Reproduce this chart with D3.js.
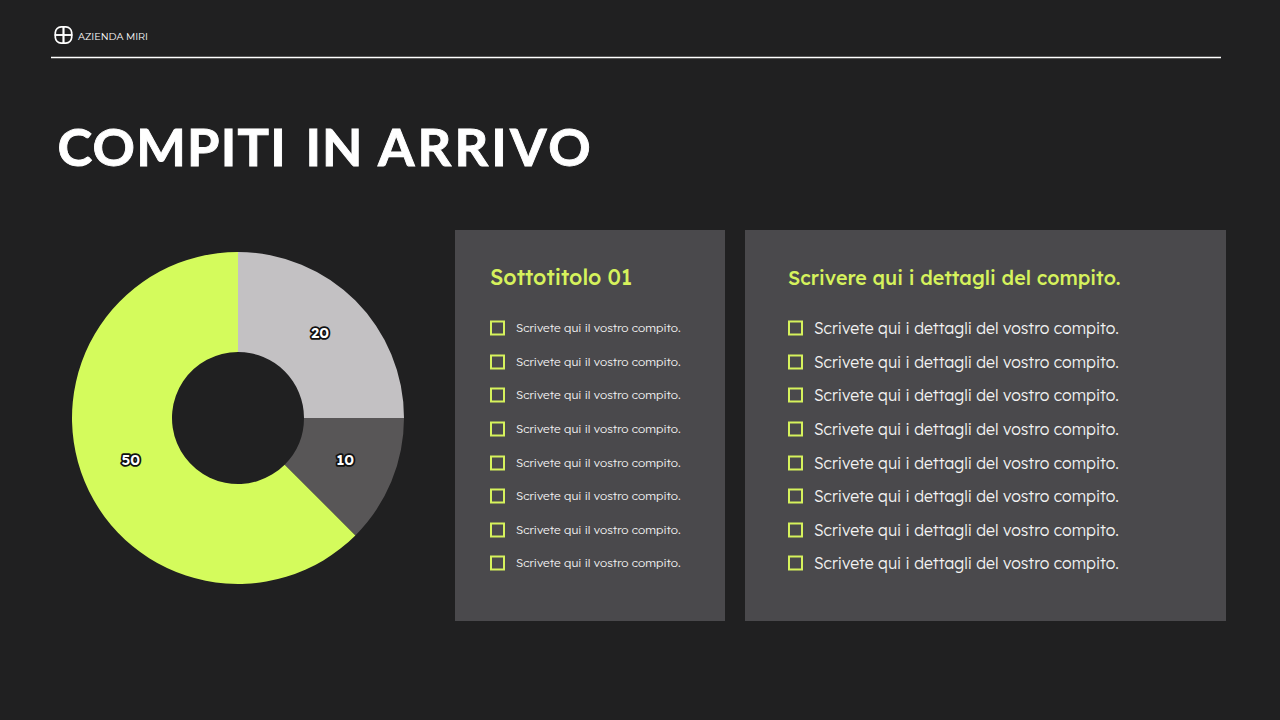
<!DOCTYPE html>
<html><head><meta charset="utf-8">
<script src="https://cdn.jsdelivr.net/npm/d3@7/dist/d3.min.js"></script>
<style>html,body{margin:0;padding:0;background:#202021;overflow:hidden}svg{display:block}</style>
</head><body><svg id="c" width="1280" height="720"></svg>
<script>
const brand = "AZIENDA MIRI";
const titleWords = ["COMPITI", "IN", "ARRIVO"];
const categories = ["A", "B", "C"];
const values = [20, 10, 50];
const sliceColors = ["#c3c1c3", "#585657", "#d4fb5c"];
const panel1Title = "Sottotitolo 01";
const panel2Title = "Scrivere qui i dettagli del compito.";
const panel1Items = Array(8).fill("Scrivete qui il vostro compito.");
const panel2Items = Array(8).fill("Scrivete qui i dettagli del vostro compito.");
const rowY = [328, 362, 395, 429, 463, 496, 530, 563];

const svg = d3.select("#c");
const lime = "#d6f25c";
const FONT = "Lexend, Inter, 'Noto Sans', sans-serif";

svg.append("rect").attr("width",1280).attr("height",720).attr("fill","#202021");

// header
const logo = svg.append("g").attr("fill","none").attr("stroke","#fff").attr("stroke-width",1.7)
  .attr("transform","translate(63.5,35)");
[[1,1],[-1,1],[1,-1],[-1,-1]].forEach(([sx,sy]) => {
  logo.append("path").attr("transform",`scale(${sx},${sy})`)
    .attr("d","M0 0 H8.2 V2.4 A6.2 6.2 0 0 1 2.4 8.2 H0 Z");
});
svg.append("text").attr("x",78).attr("y",40).attr("fill","#fff")
  .attr("font-family","Montserrat, 'Open Sans', sans-serif").attr("font-size",9.7).text(brand);
svg.append("line").attr("x1",51).attr("x2",1221).attr("y1",57.5).attr("y2",57.5).attr("stroke","#fff").attr("stroke-width",1.5);

// title: three words placed separately to follow the reference's spacing
const titleX = [57.5, 305.5, 378];
const titleLS = [1.2, 1, 3.1];
svg.append("g").selectAll("text").data(titleWords).join("text")
  .attr("x",(d,i)=>titleX[i]).attr("y",165.5).attr("fill","#fff").attr("stroke","#fff").attr("stroke-width",0.9)
  .attr("font-family","Lato, sans-serif").attr("font-weight",700).attr("font-size",52.5)
  .attr("letter-spacing",(d,i)=>titleLS[i]).text(d=>d);

// donut
const cx = 238, cy = 418, R = 166, r = 66;
const pie = d3.pie().sort(null).value(d => d);
const arc = d3.arc().innerRadius(r).outerRadius(R);
const g = svg.append("g").attr("transform",`translate(${cx},${cy})`);
const arcs = pie(values);
g.selectAll("path").data(arcs).join("path").attr("d",arc).attr("fill",(d,i)=>sliceColors[i]);
g.selectAll("text").data(arcs).join("text")
  .attr("transform",d=>`translate(${arc.centroid(d)})`)
  .attr("dy","0.14em").attr("text-anchor","middle")
  .attr("font-family",FONT).attr("font-weight",600).attr("font-size",15)
  .attr("fill","#fff").attr("stroke","#111").attr("stroke-width",3.6).attr("paint-order","stroke").attr("stroke-linejoin","round")
  .text(d=>d.data);

// panels
function panel(x, w, heading, headX, items, boxX, textX, size, titleSize){
  svg.append("rect").attr("x",x).attr("y",230).attr("width",w).attr("height",391).attr("fill","#4a494c");
  svg.append("text").attr("x",headX).attr("y",285).attr("fill",lime)
    .attr("font-family",FONT).attr("font-weight",500).attr("font-size",titleSize).text(heading);
  const rows = svg.append("g").selectAll("g").data(items).join("g");
  rows.append("rect").attr("x",boxX+1).attr("y",(d,i)=>rowY[i]-6.5).attr("width",13).attr("height",13)
    .attr("fill","none").attr("stroke",lime).attr("stroke-width",2);
  rows.append("text").attr("x",textX).attr("y",(d,i)=>rowY[i]+size*0.36).attr("fill","#f2f2f2")
    .attr("font-family",FONT).attr("font-weight",300).attr("font-size",size).text(d=>d);
}
panel(455,270,panel1Title,490,panel1Items,490,516,11.85,21.3);
panel(745,481,panel2Title,788,panel2Items,788,814,15.8,19.6);
</script></body></html>
